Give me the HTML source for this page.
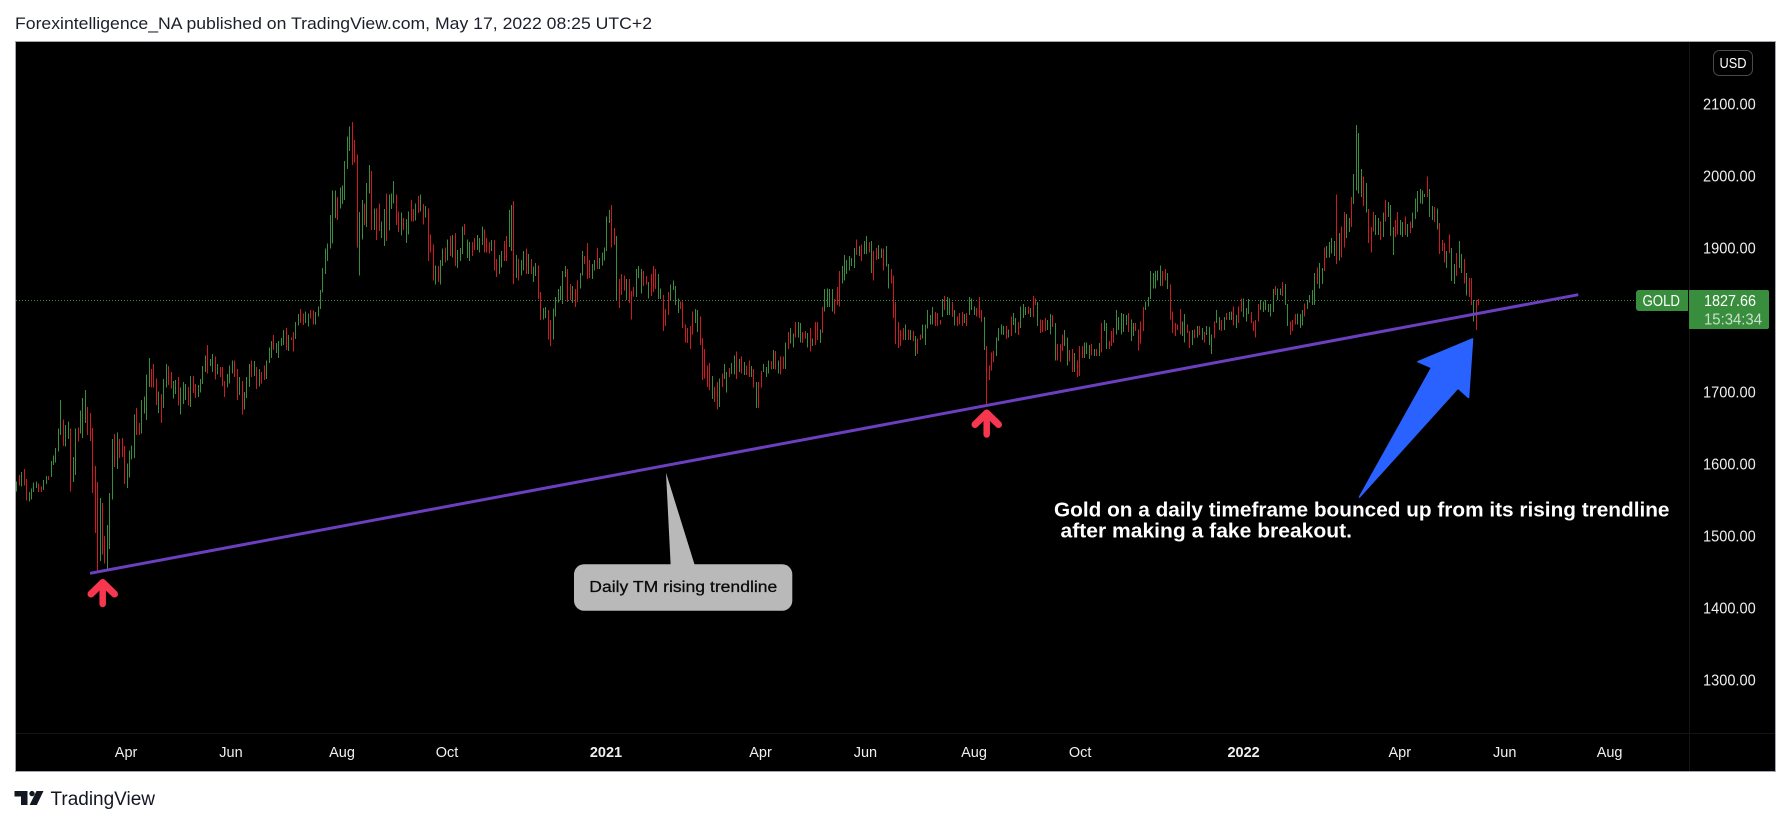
<!DOCTYPE html>
<html lang="en">
<head>
<meta charset="utf-8">
<title>Gold daily chart</title>
<style>
html,body{margin:0;padding:0;background:#fff;}
body{width:1791px;height:825px;overflow:hidden;}
svg{display:block;font-family:"Liberation Sans",sans-serif;}
</style>
</head>
<body>
<svg id="chart" xmlns="http://www.w3.org/2000/svg" width="1791" height="825" viewBox="0 0 1791 825">
  <rect x="0" y="0" width="1791" height="825" fill="#ffffff"/>
  <text x="15" y="29" font-size="17" fill="#1c1f2a" textLength="637" lengthAdjust="spacingAndGlyphs">Forexintelligence_NA published on TradingView.com, May 17, 2022 08:25 UTC+2</text>
  <rect x="15.5" y="41.5" width="1760" height="730" fill="#000000" stroke="#a3a6af" stroke-width="1"/>
  <line x1="1689.5" y1="42" x2="1689.5" y2="771" stroke="#141414"/>
  <line x1="16" y1="733.5" x2="1775" y2="733.5" stroke="#141414"/>
  <line id="lastPriceLine" x1="16" x2="1636" stroke="#388e3c" stroke-width="1" stroke-dasharray="1 2" shape-rendering="crispEdges"/>
  <g id="bars" shape-rendering="crispEdges"></g>
  <line x1="90" y1="573.3" x2="1578.3" y2="294.7" stroke="#6b3fc0" stroke-width="3"/>
  <g fill="none" stroke="#f7364f" stroke-linecap="round" stroke-linejoin="round">
    <polyline points="91,594 102.7,582.5 114.5,594" stroke-width="7"/>
    <line x1="102.7" y1="585" x2="102.7" y2="604" stroke-width="6.5"/>
  </g>
  <g fill="none" stroke="#f7364f" stroke-linecap="round" stroke-linejoin="round">
    <polyline points="975,424.5 986.7,413 998.5,424.5" stroke-width="7"/>
    <line x1="986.7" y1="416" x2="986.7" y2="434.5" stroke-width="6.5"/>
  </g>
  <polygon points="1359.5,497 1431.7,367.7 1418,361.7 1472.5,339 1468.5,397.5 1458,388" fill="#2962ff" stroke="#2962ff" stroke-width="1.6" stroke-linejoin="round"/>
  <g fill="#ffffff" font-weight="700" font-size="20.5">
    <text x="1054" y="516.5" textLength="615.5" lengthAdjust="spacingAndGlyphs">Gold on a daily timeframe bounced up from its rising trendline</text>
    <text x="1060.5" y="537.5" textLength="291.5" lengthAdjust="spacingAndGlyphs">after making a fake breakout.</text>
  </g>
  <g>
    <polygon points="666,472.7 670.7,566 695,566" fill="#b9b9b9"/>
    <rect x="574" y="564.3" width="218.3" height="46.4" rx="10" ry="10" fill="#b9b9b9"/>
    <text x="589.3" y="591.8" font-size="15.5" fill="#0a0a0a" stroke="#0a0a0a" stroke-width="0.25" textLength="188" lengthAdjust="spacingAndGlyphs">Daily TM rising trendline</text>
  </g>
  <g id="priceTicks"></g>
  <g id="timeTicks"></g>
  <g>
    <rect x="1713.5" y="50.5" width="39" height="25" rx="6" ry="6" fill="#000" stroke="#4a4a4a"/>
    <text x="1733" y="68" font-size="14.5" fill="#ffffff" text-anchor="middle" textLength="27" lengthAdjust="spacingAndGlyphs">USD</text>
  </g>
  <g>
    <path d="M1688,290H1639a3,3 0 0 0 -3,3V308a3,3 0 0 0 3,3H1688Z" fill="#388e3c"/>
    <text x="1642.5" y="306" font-size="15.5" fill="#ffffff" textLength="37.5" lengthAdjust="spacingAndGlyphs">GOLD</text>
  </g>
  <g>
    <path d="M1689,290H1767a2,2 0 0 1 2,2V327a2,2 0 0 1 -2,2H1689Z" fill="#388e3c"/>
    <text x="1704" y="306" font-size="15.5" fill="#ffffff" textLength="52" lengthAdjust="spacingAndGlyphs">1827.66</text>
    <text x="1704" y="324.5" font-size="15.5" fill="#c8e0ca" textLength="58" lengthAdjust="spacingAndGlyphs">15:34:34</text>
  </g>
  <g fill="#131722">
    <path d="M14.5,791H27.5V805H21V796.5H14.5Z"/>
    <circle cx="32" cy="793.6" r="2.7"/>
    <polygon points="36.5,791 43.5,791 36.8,805 29.6,805"/>
    <text x="50.5" y="805" font-size="19" textLength="104.5" lengthAdjust="spacingAndGlyphs">TradingView</text>
  </g>
</svg>
<script>
// Daily bar highs, in USD, oldest first.
const highs = [
1576,1585,1589,1593,1579,1561,1566,1574,1576,1573,1569,1578,1583,1583,1604,1612,1622,1649,1689,1662,1654,1659,1649,1610,1649,1651,1674,1692,1703,1679,1671,1650,1597,1575,1553,1546,1500,1515,1560,1635,1642,1644,1635,1636,1625,1601,1619,1626,1669,1678,1657,1689,1694,1724,1747,1732,1739,1719,1701,1697,1718,1739,1736,1728,1715,1717,1721,1706,1714,1711,1707,1722,1722,1711,1710,1718,1736,1751,1765,1746,1753,1749,1739,1735,1735,1715,1725,1737,1744,1744,1732,1721,1715,1700,1721,1739,1744,1743,1735,1732,1728,1737,1744,1762,1771,1779,1768,1771,1775,1786,1789,1779,1776,1783,1797,1808,
1815,1809,1812,1809,1814,1813,1811,1819,1842,1872,1899,1906,1946,1980,1980,1971,1984,1987,2021,2055,2069,2075,2050,2030,1950,1967,1962,1990,2015,2007,1955,1955,1962,1937,1954,1976,1974,1976,1993,1974,1951,1949,1942,1940,1951,1967,1954,1962,1972,1974,1961,1958,1955,1919,1905,1876,1875,1883,1899,1901,1912,1917,1918,1921,1897,1900,1930,1933,1912,1908,1908,1914,1918,1914,1930,1926,1914,1908,1911,1911,1885,1890,1896,1910,1917,1953,1960,1965,1890,1885,1883,1896,1899,1892,1885,1874,1879,1876,1839,1817,1818,1814,1800,1816,1832,1843,1847,1868,1875,1871,1850,1847,1843,1855,1865,1896,1889,1907,1883,1878,1883,1900,1886,1894,1901,1944,1953,1960,1928,1917,1857,1864,1862,1857,1857,1840,1846,1871,1875,1871,1868,1861,1853,1864,1875,1871,1864,1844,1835,1815,1839,1849,1855,1847,1830,1826,1826,1794,1789,1792,1812,1815,1814,1805,1775,1760,1737,1740,
1722,1707,1714,1719,1726,1739,1728,1733,1740,1751,1756,1746,1749,1742,1737,1744,1736,1732,1714,1714,1729,1739,1735,1744,1743,1758,1757,1744,1749,1749,1769,1783,1789,1781,1797,1797,1796,1783,1785,1782,1789,1774,1797,1797,
1787,1818,1843,1844,1843,1843,1829,1846,1868,1875,1890,1883,1889,1886,1900,1912,1903,1905,1910,1917,1908,1910,1896,1900,1904,1899,1899,1903,1878,1871,1862,1825,1797,1786,1789,1794,1787,1786,1785,1778,1774,1780,1794,1794,1814,1807,1818,1811,1810,1800,1829,1833,1832,1830,1825,1814,1805,1810,1811,1808,1810,1832,1830,1819,1817,1832,1814,1804,1764,1737,1755,1757,1776,1789,1794,1792,1792,1787,1805,1810,1803,1797,1819,1822,1818,1819,1817,1833,1830,1825,1801,1800,1803,1800,1808,1807,1796,1767,1767,1780,1786,1776,1758,1760,1754,1744,1764,1764,1769,1769,1765,1767,1760,1760,1768,1796,1800,1796,1771,1785,1789,1814,1804,1810,1808,1807,1810,1801,1796,1796,1787,1798,1818,1826,1832,1868,1865,1868,1869,1876,1868,1871,1865,1849,1812,1796,1794,1815,1798,1808,1794,1785,1786,1787,1792,1792,1789,1783,1792,1790,1780,1798,1814,1804,1800,1804,1810,1811,1812,1819,1807,1819,1830,1830,1817,1829,1811,1798,1800,1822,1828,1826,1828,1822,1822,1843,1847,1844,1844,1853,1850,1822,1798,1800,1808,1809,
1808,1814,1823,1828,1835,1842,1865,1873,1879,1872,1901,1903,1908,1914,1910,1974,1921,1930,1950,1947,1942,1971,2003,2071,2060,2010,1999,1990,1954,1929,1950,1946,1942,1937,1949,1967,1964,1960,1929,1939,1950,1939,1936,1944,1933,1937,1949,1969,1979,1982,1980,1975,1999,1982,1958,1957,1955,1935,1911,1907,1896,1919,1900,1878,1893,1910,1892,1885,1865,1858,1858,1828,1828,1829
];
// Daily bar lows, in USD, oldest first.
const lows = [
1562,1570,1569,1570,1549,1548,1551,1561,1567,1561,1561,1564,1572,1578,1582,1599,1602,1617,1640,1625,1624,1635,1562,1575,1585,1631,1642,1636,1657,1640,1632,1560,1504,1451,1465,1474,1462,1454,1482,1551,1596,1593,1608,1610,1572,1567,1581,1606,1608,1640,1640,1642,1670,1661,1707,1706,1706,1682,1671,1657,1678,1706,1710,1705,1691,1697,1681,1669,1683,1689,1681,1679,1699,1692,1693,1699,1711,1728,1726,1736,1728,1717,1724,1721,1708,1693,1706,1712,1726,1721,1689,1696,1669,1676,1692,1707,1721,1722,1704,1708,1712,1717,1718,1740,1747,1758,1754,1747,1764,1765,1758,1757,1772,1756,1774,1792,
1796,1793,1796,1791,1802,1794,1794,1805,1815,1838,1864,1882,1899,1906,1942,1939,1955,1961,1967,2010,2035,2015,2019,1901,1862,1912,1932,1929,1976,1925,1925,1911,1924,1914,1903,1910,1924,1954,1962,1932,1922,1917,1925,1907,1919,1937,1937,1938,1949,1951,1933,1942,1882,1894,1855,1849,1853,1849,1875,1880,1883,1889,1887,1875,1872,1882,1892,1918,1886,1882,1889,1897,1897,1894,1904,1894,1894,1892,1896,1869,1860,1864,1873,1882,1882,1901,1896,1850,1858,1855,1862,1869,1864,1864,1864,1853,1861,1829,1800,1801,1803,1773,1764,1773,1805,1824,1828,1822,1860,1825,1828,1824,1818,1825,1844,1862,1878,1857,1858,1857,1869,1871,1871,1876,1883,1896,1935,1901,1904,1828,1817,1835,1841,1828,1824,1801,1833,1832,1858,1837,1847,1849,1830,1833,1839,1843,1829,1829,1785,1792,1807,1828,1842,1821,1810,1815,1789,1769,1768,1760,1780,1796,1783,1765,1717,1719,1707,1703,
1690,1686,1676,1679,1707,1718,1699,1721,1725,1724,1718,1728,1726,1724,1724,1721,1721,1706,1678,1678,1706,1728,1721,1726,1731,1732,1731,1726,1724,1732,1732,1760,1767,1762,1776,1776,1769,1768,1774,1762,1756,1764,1765,1772,
1768,1782,1812,1818,1818,1812,1808,1821,1819,1851,1855,1864,1869,1875,1872,1890,1889,1882,1892,1892,1894,1865,1855,1883,1885,1886,1869,1874,1844,1851,1803,1767,1761,1764,1772,1772,1772,1772,1771,1750,1753,1772,1774,1765,1788,1794,1794,1792,1792,1794,1804,1814,1807,1807,1804,1792,1792,1794,1792,1796,1792,1807,1814,1807,1805,1803,1797,1758,1682,1717,1730,1742,1750,1771,1780,1779,1774,1776,1778,1793,1782,1779,1789,1803,1807,1808,1804,1804,1821,1792,1782,1783,1785,1786,1780,1790,1744,1744,1742,1757,1764,1737,1742,1728,1728,1721,1722,1747,1747,1753,1746,1751,1750,1750,1750,1755,1785,1760,1760,1764,1768,1780,1786,1780,1783,1793,1783,1771,1778,1785,1758,1767,1785,1814,1819,1829,1844,1844,1855,1847,1847,1855,1843,1801,1782,1778,1786,1780,1778,1769,1782,1761,1765,1775,1776,1779,1772,1769,1779,1765,1753,1775,1796,1786,1785,1786,1800,1800,1800,1792,1789,1796,1812,1804,1798,1808,1796,1785,1776,1798,1814,1811,1814,1811,1805,1811,1835,1828,1835,1833,1821,1792,1779,1785,1794,1794,
1789,1792,1805,1815,1824,1821,1821,1850,1844,1850,1868,1886,1887,1892,1889,1878,1883,1887,1901,1914,1922,1929,1961,1980,1976,1971,1958,1949,1907,1894,1923,1918,1918,1911,1915,1937,1943,1917,1890,1915,1919,1918,1915,1918,1915,1921,1928,1940,1950,1962,1961,1971,1971,1943,1939,1936,1926,1892,1896,1880,1872,1893,1854,1850,1861,1872,1865,1851,1834,1832,1821,1798,1786,1821
];
// Bar direction: g = closed up, r = closed down.
const directions = (
"g r g r r g g g g r r g g r g g g g g r g g r g g r g g g r r r r r g r r g g g r g r r r g g g g r r g g g g r r r g r g g r r g g r g g g r g r r g g g g r g g r g r r r g g g r r g r g g g r g r g r r g g g r g g g g r g r r g g " +
"r r g g r r g g g g g g g g g r g g g g g r r r g g r g g r g r r g g r g g g r r g r g g r r g r g r g r r r g r g g r g r g r g g g r g g r r g g g r r r g r r g g r r g g r g r g g r g r g g r r g g r r g g g g g g r r g r r g g r r r g g r g g g g g r r g r r r g r r r g g g r r g r r r g g r r r g g g g r r r r r r g g r r r r r g r " +
"r g r g g r g g r g r g r r g r g r r g g g r g r g r r g r g g r g g r r g r g r r g r " +
"g g g g r r r g g g g g g r g r g g r g r r g g r g g r r r r r r g r g r g r r g g g g g r r r g r g g r g r r r g r g g g r r r g r r r r g g g g r g r g g r g g g r g r r g r r r g g r g r r r g g r r g r r r g g g r g r g r g g r r r g g g g g r g g r r r r g g g g g g g r r g r r r r r g g r r g r g r g r g g g r g g r g r g g r g r r g g g r r r r g g g g g g r g g r g g r r r g g g " +
"r g g g g r g g r g g g g r g r r g g r g g g g r g r r r g g r g r g g g r r g g r g r g g g g g g r g g r g r r r g r g g r g g r g r r g r r g g"
).split(" ");
// Price axis labels, in USD.
const priceTicks = [2100, 2000, 1900, 1700, 1600, 1500, 1400, 1300];
// Time axis labels and the session index each one sits on.
const timeLabels = ["Apr","Jun","Aug","Oct","2021","Apr","Jun","Aug","Oct","2022","Apr","Jun","Aug"];
const timeLabelSessions = [45,88,133.5,176.5,241.7,305,348,392.5,436,503,567,610,653];
const boldTimeLabels = ["2021","2022"];
const lastPrice = 1827.66;

const SVG_NS = "http://www.w3.org/2000/svg";
function priceToY(p) { return 176 + (2000 - p) * 0.72; }
function barToX(i) { return 16.3 + i * (1478.3 - 16.3) / (highs.length - 1); }
function sessionToX(i) { return 16.3 + i * 2.44; }

const barGroup = document.getElementById("bars");
highs.forEach(function (h, i) {
  const top = priceToY(h);
  const bottom = priceToY(lows[i]);
  const el = document.createElementNS(SVG_NS, "rect");
  el.setAttribute("x", Math.round(barToX(i)));
  el.setAttribute("y", top.toFixed(1));
  el.setAttribute("width", 1);
  el.setAttribute("height", Math.max(1, bottom - top).toFixed(1));
  el.setAttribute("fill", directions[i] === "g" ? "#388e3c" : "#cf1a1f");
  
  
  barGroup.appendChild(el);
});

const priceLine = document.getElementById("lastPriceLine");
priceLine.setAttribute("y1", Math.round(priceToY(lastPrice)) + 0.5);
priceLine.setAttribute("y2", Math.round(priceToY(lastPrice)) + 0.5);

const priceGroup = document.getElementById("priceTicks");
priceTicks.forEach(function (p) {
  const el = document.createElementNS(SVG_NS, "text");
  el.setAttribute("x", 1703);
  el.setAttribute("y", (priceToY(p) + 5.5).toFixed(1));
  el.setAttribute("font-size", "15.5");
  el.setAttribute("fill", "#f0f0f0");
  el.setAttribute("textLength", "52.7");
  el.setAttribute("lengthAdjust", "spacingAndGlyphs");
  
  
  el.textContent = p.toFixed(2);
  priceGroup.appendChild(el);
});

const timeGroup = document.getElementById("timeTicks");
timeLabels.forEach(function (label, i) {
  const el = document.createElementNS(SVG_NS, "text");
  el.setAttribute("x", sessionToX(timeLabelSessions[i]).toFixed(1));
  el.setAttribute("y", 757);
  el.setAttribute("font-size", "14.5");
  el.setAttribute("text-anchor", "middle");
  el.setAttribute("fill", "#f0f0f0");
  if (boldTimeLabels.indexOf(label) >= 0) { el.setAttribute("font-weight", "700"); }
  
  
  el.textContent = label;
  timeGroup.appendChild(el);
});
</script>
</body>
</html>
